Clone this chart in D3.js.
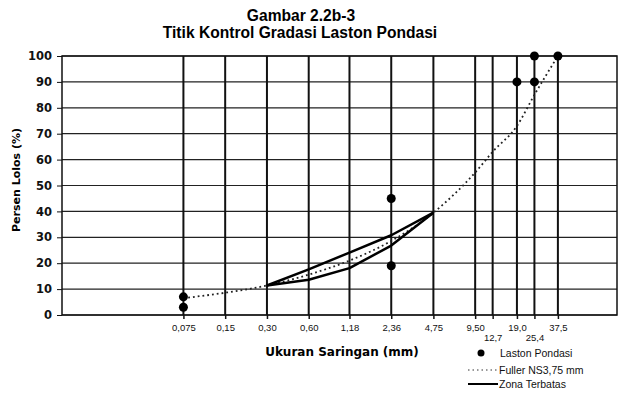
<!DOCTYPE html>
<html>
<head>
<meta charset="utf-8">
<script src="https://cdn.jsdelivr.net/npm/d3@7"></script>
<style>
    body { margin: 0; background: #fff; }
    svg { display: block; font-family: "Liberation Sans", Arial, sans-serif; }
</style>
</head>
<body>
<div id="chart"></div>
<script>
// Titik kontrol gradasi Laston Pondasi
const sieveSizes = [0.075, 0.15, 0.3, 0.6, 1.18, 2.36, 4.75, 9.5, 12.7, 19.0, 25.4, 37.5];
const sieveLabels = ["0,075", "0,15", "0,30", "0,60", "1,18", "2,36", "4,75", "9,50", "12,7", "19,0", "25,4", "37,5"];
const lowerRowLabels = ["12,7", "25,4"];
const yTicks = [0, 10, 20, 30, 40, 50, 60, 70, 80, 90, 100];

// Laston Pondasi control points
const controlSizes = [0.075, 0.075, 2.36, 2.36, 19.0, 25.4, 25.4, 37.5];
const controlPass = [7, 3, 45, 19, 90, 90, 100, 100];

// Fuller curve (read at each sieve)
const fullerPass = [6.5, 8.6, 11.4, 15.6, 21.0, 28.6, 39.5, 55.0, 63.0, 73.0, 85.0, 100];

// Zona terbatas
const zoneSizes = [0.3, 0.6, 1.18, 2.36, 4.75];
const zoneUpper = [11.4, 17.6, 24.1, 30.8, 39.5];
const zoneLower = [11.4, 13.6, 18.1, 26.8, 39.5];

const W = 626, H = 402;
const margin = { top: 56, right: 9, bottom: 87, left: 62 };
const width = W - margin.left - margin.right;
const height = H - margin.top - margin.bottom;
const wideFont = "DejaVu Sans, Verdana, sans-serif";

const root = d3.select("#chart")
    .append("svg")
    .attr("width", W)
    .attr("height", H);

const svg = root.append("g")
    .attr("transform", `translate(${margin.left},${margin.top})`);

const x = d3.scaleLog().domain([0.01, 100]).range([0, width]);
const y = d3.scaleLinear().domain([0, 100]).range([height, 0]);

// Title
root.append("text")
    .attr("x", 301).attr("y", 21)
    .attr("text-anchor", "middle")
    .attr("font-size", "15.6px").attr("font-weight", "bold")
    .text("Gambar 2.2b-3");
root.append("text")
    .attr("x", 300).attr("y", 38)
    .attr("text-anchor", "middle")
    .attr("font-size", "15.6px").attr("font-weight", "bold")
    .text("Titik Kontrol Gradasi Laston Pondasi");

// Grid
svg.selectAll(".hgrid")
    .data(yTicks)
    .enter().append("line")
    .attr("x1", 0).attr("x2", width)
    .attr("y1", d => y(d)).attr("y2", d => y(d))
    .attr("stroke", "#222").attr("stroke-width", 1.2);

svg.selectAll(".vgrid")
    .data(sieveSizes)
    .enter().append("line")
    .attr("x1", d => x(d)).attr("x2", d => x(d))
    .attr("y1", 0).attr("y2", height)
    .attr("stroke", "#111").attr("stroke-width", 2);

// Frame
svg.append("rect")
    .attr("width", width).attr("height", height)
    .attr("fill", "none").attr("stroke", "#111").attr("stroke-width", 1.5);

// Axes
const yAxis = svg.append("g")
    .call(d3.axisLeft(y).tickValues(yTicks).tickSize(5).tickPadding(5));
yAxis.select(".domain").remove();
yAxis.selectAll("text")
    .attr("font-size", "11.5px").attr("font-weight", "bold")
    .attr("font-family", wideFont).attr("fill", "#111");
yAxis.selectAll("line").attr("stroke", "#111");

const xAxis = svg.append("g")
    .attr("transform", `translate(0,${height})`)
    .call(d3.axisBottom(x).tickValues(sieveSizes)
        .tickFormat((d, i) => sieveLabels[i]).tickSize(4).tickPadding(5));
xAxis.select(".domain").remove();
xAxis.selectAll("line").attr("stroke", "#111").attr("stroke-width", 1.5);
xAxis.selectAll("text")
    .attr("font-size", "9.5px")
    .attr("font-family", "Liberation Sans, Arial, sans-serif").attr("fill", "#111")
    .attr("dy", (d, i) => lowerRowLabels.includes(sieveLabels[i]) ? "1.75em" : "0.71em");

// Axis labels
root.append("text")
    .attr("x", 342).attr("y", 356)
    .attr("text-anchor", "middle")
    .attr("font-family", wideFont)
    .attr("font-size", "12px").attr("font-weight", "bold")
    .text("Ukuran Saringan (mm)");

root.append("text")
    .attr("transform", "rotate(-90)")
    .attr("x", -180).attr("y", 20)
    .attr("text-anchor", "middle")
    .attr("font-family", wideFont)
    .attr("font-size", "11px").attr("font-weight", "bold")
    .text("Persen Lolos (%)");

// Fuller curve
svg.append("path")
    .datum(sieveSizes.map((s, i) => [s, fullerPass[i]]))
    .attr("fill", "none")
    .attr("stroke", "#222")
    .attr("stroke-width", 1.8)
    .attr("stroke-dasharray", "1.8,3")
    .attr("d", d3.line().x(d => x(d[0])).y(d => y(d[1])).curve(d3.curveMonotoneX));

// Zona terbatas
[zoneUpper, zoneLower].forEach(vals => {
    svg.append("path")
        .datum(zoneSizes.map((s, i) => [s, vals[i]]))
        .attr("fill", "none")
        .attr("stroke", "#000")
        .attr("stroke-width", 2.5)
        .attr("stroke-linejoin", "round")
        .attr("d", d3.line().x(d => x(d[0])).y(d => y(d[1])));
});

// Control points
svg.selectAll(".dot")
    .data(controlSizes.map((s, i) => [s, controlPass[i]]))
    .enter().append("circle")
    .attr("cx", d => x(d[0]))
    .attr("cy", d => y(d[1]))
    .attr("r", 4.5)
    .attr("fill", "#000");

// Legend
const legend = root.append("g").attr("font-size", "10.5px").attr("fill", "#111");
legend.append("circle").attr("cx", 481).attr("cy", 353).attr("r", 3.5).attr("fill", "#000");
legend.append("text").attr("x", 500).attr("y", 356.5).text("Laston Pondasi");
legend.append("line").attr("x1", 468).attr("x2", 498).attr("y1", 370).attr("y2", 370)
    .attr("stroke", "#333").attr("stroke-width", 1).attr("stroke-dasharray", "1.5,3");
legend.append("text").attr("x", 499).attr("y", 373.5).text("Fuller NS3,75 mm");
legend.append("line").attr("x1", 468).attr("x2", 498).attr("y1", 384).attr("y2", 384)
    .attr("stroke", "#000").attr("stroke-width", 2);
legend.append("text").attr("x", 499).attr("y", 387.5).text("Zona Terbatas");
</script>
</body>
</html>
